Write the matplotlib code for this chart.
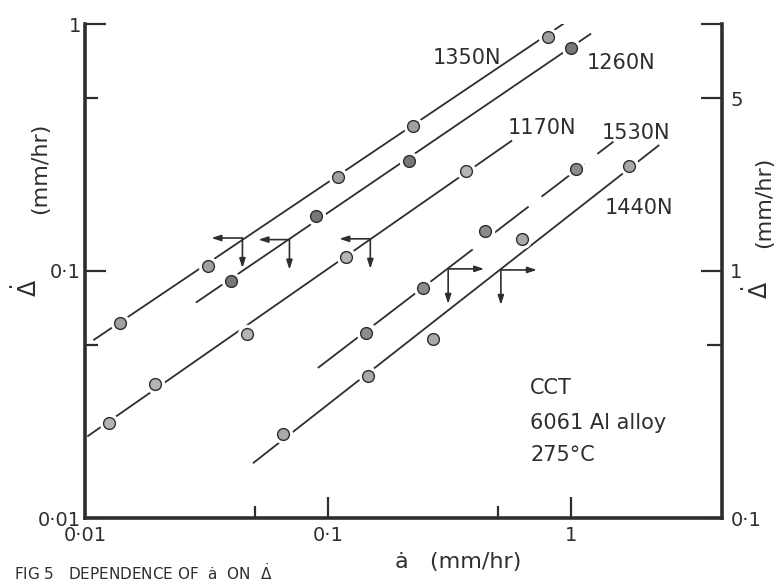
import numpy as np
import matplotlib.pyplot as plt
from matplotlib.transforms import offset_copy
from matplotlib.ticker import FixedLocator, FixedFormatter, NullFormatter

plt.rcParams['font.family'] = ['DejaVu Sans']
plt.rcParams['mathtext.fontset'] = 'dejavusans'

ink = '#2e2e2e'

# crack growth rate a-dot (mm/hr) against load-line rate delta-dot (mm/hr)
# left axis loads
a_1350 = [0.0139, 0.0321, 0.110, 0.224, 0.809]
d_1350 = [0.0615, 0.105, 0.241, 0.388, 0.885]
a_1260 = [0.040, 0.0893, 0.215, 1.0]
d_1260 = [0.091, 0.167, 0.280, 0.80]
a_1170 = [0.0125, 0.0195, 0.0466, 0.119, 0.371]
d_1170 = [0.0242, 0.0348, 0.0557, 0.1135, 0.253]
# right axis loads
a_1530 = [0.144, 0.247, 0.445, 1.05]
d_1530 = [0.561, 0.851, 1.456, 2.60]
a_1440 = [0.0655, 0.147, 0.272, 0.633, 1.74]
d_1440 = [0.219, 0.377, 0.53, 1.35, 2.65]

# drawn fit lines (end points)
fit_1350 = ([0.0109, 0.931], [0.0527, 1.0])
fit_1260 = ([0.0288, 1.205], [0.0748, 0.91])
fit_1170 = ([0.0103, 0.570], [0.0215, 0.336])
fit_1530 = ([0.091, 1.50], [0.405, 3.34])
fit_1440 = ([0.0495, 2.30], [0.1675, 3.22])

# axis pointers (corner of the arrows)
left_ptr = [(0.0445, 0.136), (0.0695, 0.134), (0.1496, 0.135)]
right_ptr = [(0.313, 1.02), (0.516, 1.01)]

fig = plt.figure(figsize=(7.8, 5.84), dpi=100)
ax = fig.add_axes([85/780, 1-518/584, (722-85)/780, (518-24)/584])
ax2 = ax.twinx()

for a in (ax, ax2):
    a.set_xscale('log')
    a.set_yscale('log')
    a.set_xlim(0.01, 4.2)
    a.spines['top'].set_visible(False)
    for s in a.spines.values():
        s.set_linewidth(2.6)
        s.set_color(ink)
ax.spines['right'].set_visible(False)
ax2.spines['left'].set_visible(False)
ax2.spines['bottom'].set_visible(False)
ax.set_ylim(0.01, 1)
ax2.set_ylim(0.1, 10)


def series(axis, x, y, fit, face, dashed=False):
    ls = (0, (30, 9)) if dashed else '-'
    axis.plot(fit[0], fit[1], color=ink, lw=1.3, ls=ls, zorder=2)
    axis.plot(x, y, 'o', ms=13, mfc='white', mec='white', zorder=3)
    axis.plot(x, y, 'o', ms=8.5, mfc=face, mec=ink, mew=1.0, zorder=4)


series(ax, a_1350, d_1350, fit_1350, '#a0a0a0')
series(ax, a_1260, d_1260, fit_1260, '#777777')
series(ax, a_1170, d_1170, fit_1170, '#b4b4b4')
series(ax2, a_1530, d_1530, fit_1530, '#8c8c8c', dashed=True)
series(ax2, a_1440, d_1440, fit_1440, '#a8a8a8')


def corner(axis, x, y, hdx, vdy):
    for dx, dy in [(hdx, 0), (0, vdy)]:
        tr = offset_copy(axis.transData, fig=fig, x=dx, y=dy, units='dots')
        axis.annotate('', xy=(x, y), xycoords=tr, xytext=(x, y), textcoords='data',
                      arrowprops=dict(arrowstyle='-|>,head_length=0.55,head_width=0.18',
                                      color=ink, lw=1.2, shrinkA=0, shrinkB=0), zorder=5)


for x, y in left_ptr:
    corner(ax, x, y, -31, -30)
for x, y in right_ptr:
    corner(ax2, x, y, 36, -35)

# ticks
tick_kw = dict(direction='in', colors=ink, labelsize=14, width=1.6)
ax.xaxis.set_major_locator(FixedLocator([0.01, 0.1, 1]))
ax.xaxis.set_major_formatter(FixedFormatter(['0·01', '0·1', '1']))
ax.xaxis.set_minor_locator(FixedLocator([0.05, 0.5]))
ax.xaxis.set_minor_formatter(NullFormatter())
ax.yaxis.set_major_locator(FixedLocator([0.01, 0.1, 1]))
ax.yaxis.set_major_formatter(FixedFormatter(['0·01', '0·1', '1']))
ax.yaxis.set_minor_locator(FixedLocator([0.05, 0.5]))
ax.yaxis.set_minor_formatter(NullFormatter())
ax.tick_params(axis='both', which='major', length=15, pad=4, **tick_kw)
ax.tick_params(axis='both', which='minor', length=9, **tick_kw)
ax.tick_params(axis='y', which='major', pad=3)
ax.tick_params(axis='x', which='major', pad=6)

ax2.yaxis.set_major_locator(FixedLocator([0.1, 1, 5, 10]))
ax2.yaxis.set_major_formatter(FixedFormatter(['0·1', '1', '5', '']))
ax2.yaxis.set_minor_locator(FixedLocator([0.5]))
ax2.yaxis.set_minor_formatter(NullFormatter())
ax2.tick_params(axis='y', which='major', length=15, pad=6, **tick_kw)
ax2.tick_params(axis='y', which='minor', length=11, **tick_kw)
ax2.tick_params(axis='x', which='both', length=0)


def ftext(px, py, s, **kw):
    kw.setdefault('fontsize', 15)
    kw.setdefault('color', ink)
    fig.text(px/780, 1-py/584, s, **kw)


# load labels
ftext(433, 58, '1350N', va='center')
ftext(587, 63, '1260N', va='center')
ftext(508, 128, '1170N', va='center')
ftext(602, 133, '1530N', va='center')
ftext(605, 208, '1440N', va='center')

# test conditions
ftext(530, 388, 'CCT', va='center')
ftext(530, 423, '6061 Al alloy', va='center')
ftext(530, 455, '275°C', va='center')

# axis titles
ftext(458, 562, 'ȧ   (mm/hr)', ha='center', va='center', fontsize=16)
ftext(40, 168, '(mm/hr)', rotation=90, ha='center', va='center', fontsize=16)
ftext(27, 288, r'$\dot{\Delta}$', rotation=90, ha='center', va='center', fontsize=17)
ftext(764, 202, '(mm/hr)', rotation=90, ha='center', va='center', fontsize=16)
ftext(758, 290, r'$\dot{\Delta}$', rotation=90, ha='center', va='center', fontsize=17)

# figure caption at the foot of the page
ftext(14, 583, r'FIG 5   DEPENDENCE OF  ȧ  ON  $\dot{\Delta}$', va='bottom', fontsize=11)

fig.savefig('out.png', dpi=100, facecolor='white')
